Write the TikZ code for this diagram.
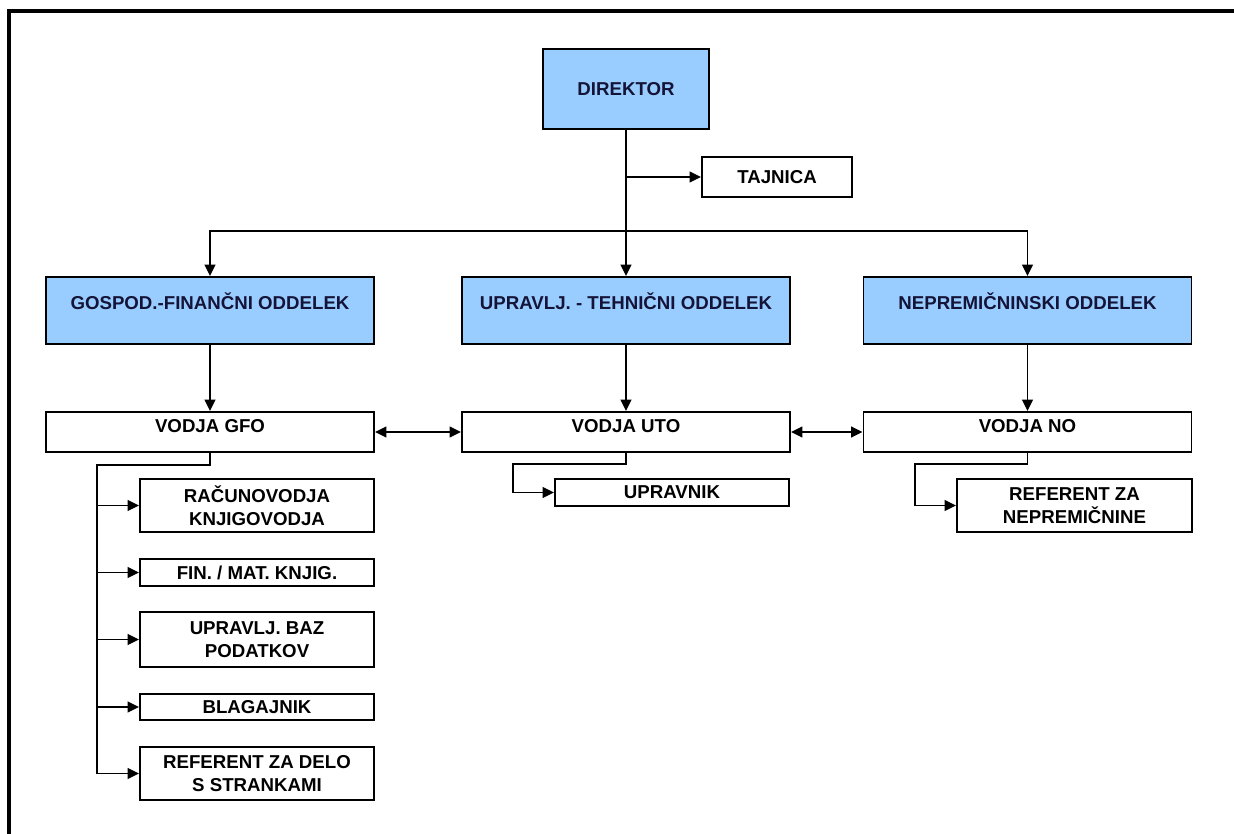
\documentclass[tikz,border=0pt]{standalone}
\usepackage{fontspec}
\setmainfont{Liberation Sans}
\usetikzlibrary{arrows.meta}
\definecolor{oddblue}{HTML}{99CCFF}
\definecolor{oddink}{HTML}{141438}

\begin{document}
\begin{tikzpicture}[
    x=0.75pt, y=-0.75pt,
    box/.style={draw, line width=1.4pt, inner sep=0pt, align=center, font=\bfseries\fontsize{14}{17.25}\selectfont},
    odd/.style={box, fill=oddblue, text=oddink, minimum width=246pt, text height=24pt, text depth=26.25pt},
    vodja/.style={box, minimum width=246pt, text height=15pt, text depth=15pt},
    sub/.style={box, minimum width=175.5pt},
    arr/.style={line width=1.4pt, -{Triangle[length=8.5pt,width=8pt]}},
    darr/.style={line width=1.4pt, {Triangle[length=8.5pt,width=8pt]}-{Triangle[length=8.5pt,width=8pt]}}
]
    \useasboundingbox (0,0) rectangle (1234,834);
    \draw[line width=2.4pt] (9,834) -- (9,11) -- (1234,11);

    % vodstvo
    \node[box, fill=oddblue, text=oddink, minimum width=124.5pt, minimum height=60pt] (dir) at (626,89) {DIREKTOR};
    \node[box, minimum width=112.5pt, minimum height=30pt] (taj) at (777,177) {TAJNICA};

    % oddelki
    \node[odd] (gfo) at (210,310.5) {GOSPOD.-FINANČNI ODDELEK};
    \node[odd] (uto) at (626,310.5) {UPRAVLJ. - TEHNIČNI ODDELEK};
    \node[odd] (no) at (1027.5,310.5) {NEPREMIČNINSKI ODDELEK};

    % vodje oddelkov
    \node[vodja] (vgfo) at (210,432) {VODJA GFO};
    \node[vodja] (vuto) at (626,432) {VODJA UTO};
    \node[vodja] (vno) at (1027.5,432) {VODJA NO};

    % zaposleni
    \node[sub, minimum height=39.75pt] (racun) at (257,505.5) {RAČUNOVODJA\\KNJIGOVODJA};
    \node[sub, minimum height=20.25pt] (fin) at (257,572.5) {FIN. / MAT. KNJIG.};
    \node[sub, minimum height=41.25pt] (baz) at (257,639.5) {UPRAVLJ. BAZ\\PODATKOV};
    \node[sub, minimum height=19.5pt] (blag) at (257,707) {BLAGAJNIK};
    \node[sub, minimum height=39.75pt] (refdelo) at (257,773.5) {REFERENT ZA DELO\\S STRANKAMI};
    \node[sub, minimum height=20.25pt] (upr) at (672,492.5) {UPRAVNIK};
    \node[sub, minimum width=176.25pt, minimum height=39.75pt] (refno) at (1074.5,505.5) {REFERENT ZA\\NEPREMIČNINE};

    % povezave
    \coordinate (bus) at (626,231);
    \draw[arr] (dir.south) -- (uto.north);
    \draw[arr] (dir.south |- taj.west) -- (taj.west);
    \draw[arr] (bus) -| (gfo.north);
    \draw[arr] (bus) -| (no.north);
    \foreach \a/\b in {gfo/vgfo, uto/vuto, no/vno}
        \draw[arr] (\a.south) -- (\b.north);
    \draw[darr] (vgfo.east) -- (vuto.west);
    \draw[darr] (vuto.east) -- (vno.west);

    \coordinate (gfobus) at (97,465);
    \foreach \n in {racun, fin, baz, blag, refdelo}
        \draw[arr] (vgfo.south) |- (gfobus) |- (\n.west);
    \coordinate (utobus) at (513,464);
    \draw[arr] (vuto.south) |- (utobus) |- (upr.west);
    \coordinate (nobus) at (915,464);
    \draw[arr] (vno.south) |- (nobus) |- (refno.west);
\end{tikzpicture}
\end{document}
